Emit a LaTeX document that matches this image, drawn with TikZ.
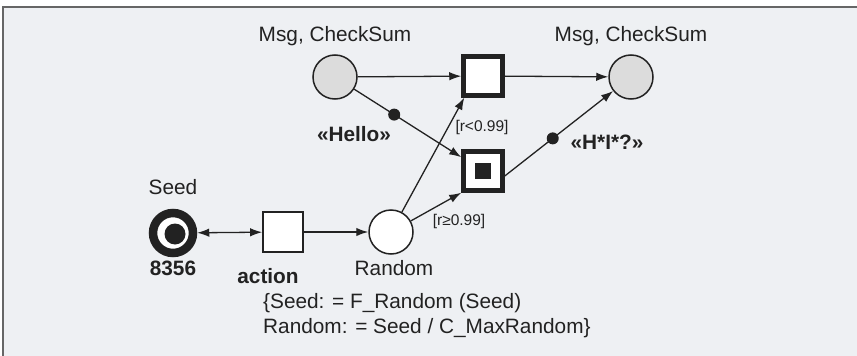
\documentclass[tikz,border=0pt]{standalone}
\usepackage{fontspec}
\setmainfont{Liberation Sans}
\usetikzlibrary{arrows.meta,calc}
\definecolor{bgcol}{HTML}{EEF0F3}
\definecolor{framecol}{HTML}{666666}
\definecolor{inkcol}{HTML}{222222}
\definecolor{placegray}{HTML}{DCDCDC}
\begin{document}
\begin{tikzpicture}[x=1pt,y=-1pt,
  every node/.style={text=inkcol},
  lbl/.style={font=\fontsize{20.8}{24}\selectfont, inner sep=0pt},
  blbl/.style={font=\fontsize{20.8}{24}\selectfont\bfseries, inner sep=0pt},
  slbl/.style={font=\fontsize{15.5}{18}\selectfont, inner sep=0pt},
  place/.style={circle, draw=inkcol, line width=1.5pt, minimum size=44pt, inner sep=0pt},
  bigtrans/.style={rectangle, draw=inkcol, fill=white, line width=4.5pt, minimum size=39pt, inner sep=0pt},
  smalltrans/.style={rectangle, draw=inkcol, fill=white, line width=1.8pt, minimum size=40pt, inner sep=0pt},
  tok/.style={circle, fill=inkcol, minimum size=12pt, inner sep=0pt},
  arc/.style={draw=inkcol, line width=1.3pt, -{Latex[length=12pt,width=8.5pt]}},
  darc/.style={draw=inkcol, line width=1.3pt, {Latex[length=12pt,width=8.5pt]}-{Latex[length=12pt,width=8.5pt]}}
]
\useasboundingbox (0,0) rectangle (857,356);
\fill[white] (0,0) rectangle (857,356);
\fill[bgcol] (3,7) rectangle (857,356);
\draw[framecol, line width=1.6pt] (3,356) -- (3,7) -- (857,7);

% places and transitions
\node[place, fill=placegray] (p1) at (335,77) {};
\node[place, fill=placegray] (p2) at (631,77) {};
\node[bigtrans] (t1) at (483,76) {};
\node[bigtrans] (t2) at (483,171) {};
\node[rectangle, fill=inkcol, minimum size=16pt, inner sep=0pt] (t2in) at (t2) {};
\node[place, fill=white] (r) at (391,232) {};
\node[smalltrans] (a) at (283,232) {};
\node[circle, draw=inkcol, fill=white, line width=8.5pt, minimum size=40pt, inner sep=0pt] (s) at (173,233) {};
\node[circle, fill=inkcol, minimum size=21pt, inner sep=0pt] (sdot) at (175,234) {};

% arcs
\draw[arc] (p1) -- (t1);
\draw[arc] (t1) -- (p2);
\draw[arc] (p1) -- (t2);
\coordinate (t2o) at ([yshift=-5pt]t2.east);
\draw[arc] (t2o) -- (p2);
\draw[darc] (s) -- (a);
\draw[arc] (a) -- (r);
\draw[arc] (r) -- ([xshift=3pt]t1.south west);
\draw[arc] (r) -- (t2.south west);

% tokens on arcs
\node[tok] (d1) at ($(p1)!0.4!(t2)$) {};
\node[tok] (d2) at ($(t2o)!0.38!(p2)$) {};

% labels
\node[lbl] (l1) at (335,36) {Msg, CheckSum};
\node[lbl] (l2) at (631,36) {Msg, CheckSum};
\node[blbl] (hello) at (354,134) {«Hello»};
\node[blbl] (hiq) at (607,142) {«H*I*?»};
\node[slbl] (c1) at (482,127) {[r<0.99]};
\node[slbl] (c2) at (459,221) {[r≥0.99]};
\node[lbl] (seedl) at (173,187) {Seed};
\node[blbl] (num) at (173,268) {8356};
\node[blbl] (act) at (268,276) {action};
\node[lbl] (randl) at (394,268) {Random};
\node[lbl, anchor=north west, align=left, font=\fontsize{20.8}{25}\selectfont] (form) at (263,293)
  {\{Seed: = F\_Random (Seed)\\Random: = Seed / C\_MaxRandom\}};
\end{tikzpicture}
\end{document}
